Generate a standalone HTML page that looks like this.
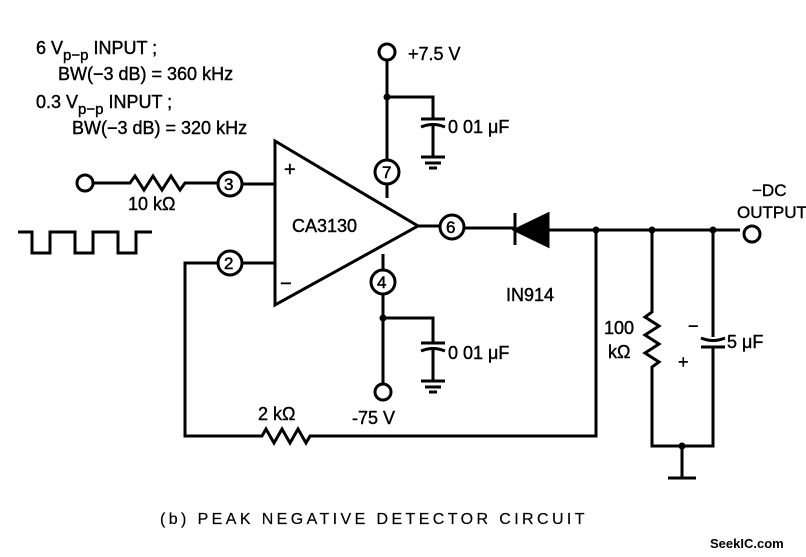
<!DOCTYPE html>
<html><head><style>body{margin:0;background:#fff}svg{display:block}</style></head><body>
<svg width="806" height="557" viewBox="0 0 806 557" xmlns="http://www.w3.org/2000/svg" font-family="Liberation Sans, sans-serif" fill="none" stroke="#000" stroke-width="3">
<g fill="#000" stroke="#000" stroke-width="0.4" font-size="18">
<text x="36" y="54">6 V<tspan font-size="15" dy="6">p−p</tspan><tspan dy="-6"> INPUT ;</tspan></text>
<text x="58" y="80">BW(−3 dB) = 360 kHz</text>
<text x="36" y="108">0.3 V<tspan font-size="15" dy="6">p−p</tspan><tspan dy="-6"> INPUT ;</tspan></text>
<text x="72" y="134">BW(−3 dB) = 320 kHz</text>
<text x="128" y="210">10 kΩ</text>
<text x="292" y="232">CA3130</text>
<text x="408" y="60">+7.5 V</text>
<text x="448" y="133">0 01 μF</text>
<text x="448" y="359">0 01 μF</text>
<text x="352" y="424">-75 V</text>
<text x="506" y="301">IN914</text>
<text x="752" y="196" font-size="17">−DC</text>
<text x="737" y="218" font-size="17">OUTPUT</text>
<text x="604" y="334">100</text>
<text x="608" y="358">kΩ</text>
<text x="727" y="348">5 μF</text>
<text x="688" y="332">−</text>
<text x="678" y="368">+</text>
<text x="258" y="420">2 kΩ</text>
<text x="160" y="524" font-size="16" letter-spacing="3.4" stroke-width="0.2">(b)  PEAK NEGATIVE DETECTOR CIRCUIT</text>
<text x="284" y="176" font-size="20">+</text>
<text x="280" y="290" font-size="20">−</text>
<text x="710" y="548" font-size="13" font-weight="bold" stroke="none">SeekIC.com</text>
</g>
<g fill="#000" stroke="#000" stroke-width="0.5" font-size="17">
<text x="224" y="190">3</text><text x="224" y="269">2</text>
<text x="382" y="178">7</text><text x="377" y="288">4</text>
<text x="446" y="233">6</text>
</g>
<path d="M275 141 L275 305 L418 226 Z"/>
<circle cx="85" cy="183" r="8"/>
<path d="M93 183 H130 l5 -7 l9 14 l9 -14 l9 14 l9 -14 l9 14 l5 -7 H218"/>
<circle cx="230" cy="184" r="12"/><path d="M242 184 H275"/>
<circle cx="230" cy="263" r="12"/><path d="M242 263 H275"/>
<path d="M218 263 H185 V436 H262 l4 -7 l8 14 l8 -14 l8 14 l8 -14 l8 14 l4 -7 H596 V230"/>
<path d="M18 232 H32 V253 H50 V232 H75 V253 H93 V232 H118 V253 H136 V232 H152"/>
<circle cx="387" cy="52" r="8"/>
<path d="M387 60 V160 M387 184 V198 M387 97 H433 V119 M421 119 H445 M421 127 q12 -5 24 0 M433 125 V157 M421 157 H445 M425 163 H441 M429 168 H437"/>
<circle cx="387" cy="172" r="12"/>
<circle cx="383" cy="282" r="12"/>
<path d="M383 254 V270 M383 294 V384 M383 318 H433 V343 M421 343 H445 M421 351 q12 -5 24 0 M433 349 V381 M421 381 H445 M425 387 H441 M429 392 H437"/>
<circle cx="383" cy="392" r="8"/>
<path d="M418 226 H440"/>
<circle cx="452" cy="227" r="12"/>
<path d="M464 228 H515 M515 213 V245 M548 230 H740"/>
<path d="M515 230 L548 214 L548 246 Z" fill="#000"/>
<circle cx="752" cy="234" r="8"/>
<path d="M652 230 V312 l-7 5 l14 9 l-14 9 l14 9 l-14 9 l14 9 l-7 5 V446 H713 V347 M701 347 H725 M701 338 q12 5 24 0 M713 337 V230 M682 446 V478 M668 478 H696"/>
<g fill="#000" stroke="none">
<circle cx="387" cy="97" r="3.5"/><circle cx="383" cy="318" r="3.5"/>
<circle cx="596" cy="230" r="3.5"/><circle cx="652" cy="230" r="3.5"/><circle cx="713" cy="230" r="3.5"/><circle cx="682" cy="446" r="3.5"/>
</g>
</svg>
</body></html>
